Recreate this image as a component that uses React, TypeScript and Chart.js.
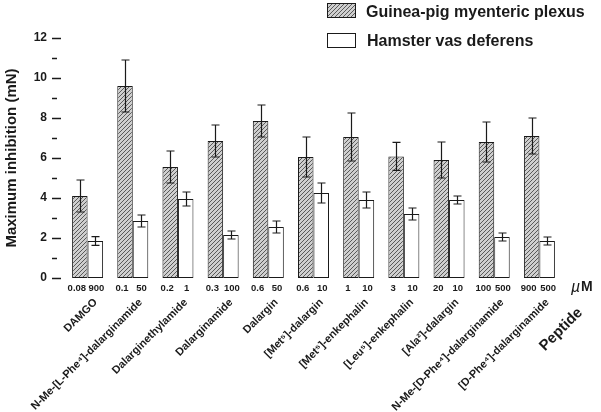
import React, { useEffect, useRef } from "react";
import { Chart, registerables } from "chart.js";

Chart.register(...registerables);

const peptides = [
  "DAMGO",
  "N-Me-[L-Phe⁴]-dalarginamide",
  "Dalarginethylamide",
  "Dalarginamide",
  "Dalargin",
  "[Met⁵]-dalargin",
  "[Met⁵]-enkephalin",
  "[Leu⁵]-enkephalin",
  "[Ala²]-dalargin",
  "N-Me-[D-Phe⁴]-dalarginamide",
  "[D-Phe⁴]-dalarginamide",
];
const concGuinea = ["0.08", "0.1", "0.2", "0.3", "0.6", "0.6", "1", "3", "20", "100", "900"];
const concHamster = ["900", "50", "1", "100", "50", "10", "10", "10", "10", "500", "500"];
const guineaPig = [4.1, 9.6, 5.55, 6.85, 7.85, 6.05, 7.05, 6.08, 5.9, 6.8, 7.1];
const guineaPigErr = [0.8, 1.3, 0.8, 0.8, 0.8, 1.0, 1.2, 0.7, 0.9, 1.0, 0.9];
const hamster = [1.85, 2.85, 3.95, 2.15, 2.55, 4.25, 3.9, 3.2, 3.9, 2.05, 1.85];
const hamsterErr = [0.22, 0.3, 0.35, 0.2, 0.3, 0.5, 0.4, 0.3, 0.2, 0.2, 0.2];
const seriesNames = ["Guinea-pig myenteric plexus", "Hamster vas deferens"];
const yTickValues = [0, 1, 2, 3, 4, 5, 6, 7, 8, 9, 10, 11, 12];

const FONT = "'Liberation Sans', Arial, Helvetica, sans-serif";
const INK = "#1a1a1a";

function makeHatch(): CanvasPattern | string {
  const c = document.createElement("canvas");
  c.width = 4;
  c.height = 4;
  const g = c.getContext("2d");
  if (!g) return "#aaa";
  g.fillStyle = "#cfcfcf";
  g.fillRect(0, 0, 4, 4);
  g.fillStyle = "#5a5a5a";
  for (let i = 0; i < 4; i++) g.fillRect(i, 3 - i, 1, 1);
  const p = g.createPattern(c, "repeat");
  return p || "#aaa";
}

export default function App() {
  const ref = useRef<HTMLCanvasElement | null>(null);

  useEffect(() => {
    if (!ref.current) return;
    const hatch = makeHatch();

    const errorBars = {
      id: "errorBars",
      afterDatasetsDraw(chart: any) {
        const ctx = chart.ctx;
        const ys = chart.scales.y;
        const errs = [guineaPigErr, hamsterErr];
        const vals = [guineaPig, hamster];
        ctx.save();
        ctx.strokeStyle = INK;
        ctx.lineWidth = 1.2;
        for (let d = 0; d < 2; d++) {
          const meta = chart.getDatasetMeta(d);
          meta.data.forEach((bar: any, i: number) => {
            const x = Math.round(bar.x) + 0.5;
            const yt = ys.getPixelForValue(vals[d][i] + errs[d][i]);
            const yb = ys.getPixelForValue(vals[d][i] - errs[d][i]);
            ctx.beginPath();
            ctx.moveTo(x, yt);
            ctx.lineTo(x, yb);
            ctx.moveTo(x - 4, yt);
            ctx.lineTo(x + 4, yt);
            ctx.moveTo(x - 4, yb);
            ctx.lineTo(x + 4, yb);
            ctx.stroke();
          });
        }
        ctx.restore();
      },
    };

    const decor = {
      id: "decor",
      afterDraw(chart: any) {
        const ctx = chart.ctx;
        const ys = chart.scales.y;
        ctx.save();
        // y tick marks
        ctx.strokeStyle = INK;
        ctx.lineWidth = 1.5;
        yTickValues.forEach((v) => {
          const y = Math.round(ys.getPixelForValue(v)) + 0.5;
          ctx.beginPath();
          ctx.moveTo(52, y);
          ctx.lineTo(v % 2 === 0 ? 61 : 57, y);
          ctx.stroke();
        });
        // concentration labels
        ctx.fillStyle = INK;
        ctx.font = `bold 9.5px ${FONT}`;
        ctx.textAlign = "center";
        ctx.textBaseline = "middle";
        const m0 = chart.getDatasetMeta(0);
        const m1 = chart.getDatasetMeta(1);
        m0.data.forEach((bar: any, i: number) => {
          ctx.fillText(concGuinea[i], bar.x - 3, 288);
        });
        m1.data.forEach((bar: any, i: number) => {
          ctx.fillText(concHamster[i], bar.x + 1, 288);
        });
        // µM
        ctx.textAlign = "left";
        ctx.textBaseline = "alphabetic";
        ctx.font = `italic 16px ${FONT}`;
        ctx.fillText("µ", 571, 292);
        ctx.font = `bold 14px ${FONT}`;
        ctx.fillText("M", 581, 291);
        // Peptide
        ctx.save();
        ctx.translate(575, 305);
        ctx.rotate(-Math.PI / 4);
        ctx.font = `bold 15px ${FONT}`;
        ctx.textAlign = "right";
        ctx.textBaseline = "top";
        ctx.fillText("Peptide", 0, 0);
        ctx.restore();
        // legend
        ctx.lineWidth = 1;
        ctx.fillStyle = hatch as any;
        ctx.fillRect(327.5, 3.5, 28, 14);
        ctx.strokeRect(327.5, 3.5, 28, 14);
        ctx.fillStyle = "#fff";
        ctx.fillRect(327.5, 33.5, 28, 14);
        ctx.strokeRect(327.5, 33.5, 28, 14);
        ctx.fillStyle = INK;
        ctx.font = `bold 16px ${FONT}`;
        ctx.textAlign = "left";
        ctx.textBaseline = "alphabetic";
        ctx.fillText(seriesNames[0], 366, 17);
        ctx.fillText(seriesNames[1], 367, 46);
        ctx.restore();
      },
    };

    const chart = new Chart(ref.current, {
      type: "bar",
      data: {
        labels: peptides,
        datasets: [
          {
            label: seriesNames[0],
            data: guineaPig,
            backgroundColor: hatch as any,
            borderColor: INK,
            borderWidth: 1,
            borderSkipped: false,
            barPercentage: 1,
            categoryPercentage: 0.686,
          },
          {
            label: seriesNames[1],
            data: hamster,
            backgroundColor: "#ffffff",
            borderColor: INK,
            borderWidth: 1,
            borderSkipped: false,
            barPercentage: 1,
            categoryPercentage: 0.686,
          },
        ],
      },
      options: {
        animation: false,
        responsive: true,
        maintainAspectRatio: false,
        layout: { padding: { left: 0, right: 39, top: 38, bottom: 0 } },
        plugins: {
          legend: { display: false },
          tooltip: { enabled: false },
        },
        scales: {
          x: {
            grid: { display: false, drawTicks: false },
            border: { display: false },
            ticks: {
              autoSkip: false,
              maxRotation: 45,
              minRotation: 45,
              padding: 18,
              labelOffset: 8,
              color: INK,
              font: { family: FONT, size: 11, weight: "bold" },
            },
            afterFit(scale: any) {
              scale.height = 134;
            },
          },
          y: {
            min: 0,
            max: 12,
            grid: { display: false, drawTicks: false },
            border: { display: false },
            ticks: {
              stepSize: 1,
              padding: 18,
              color: INK,
              font: { family: FONT, size: 12, weight: "bold" },
              callback: (v: any) => (Number(v) % 2 === 0 ? String(v) : ""),
            },
            title: {
              display: true,
              text: "Maximum inhibition (mN)",
              color: INK,
              font: { family: FONT, size: 15, weight: "bold" },
              padding: { top: 3, bottom: 4 },
            },
            afterFit(scale: any) {
              scale.width = 65;
            },
          },
        },
      },
      plugins: [errorBars, decor],
    });
    return () => chart.destroy();
  }, []);

  return (
    <div style={{ position: "absolute", left: 0, top: 0, width: 601, height: 412, background: "#fff" }}>
      <canvas ref={ref} />
    </div>
  );
}
